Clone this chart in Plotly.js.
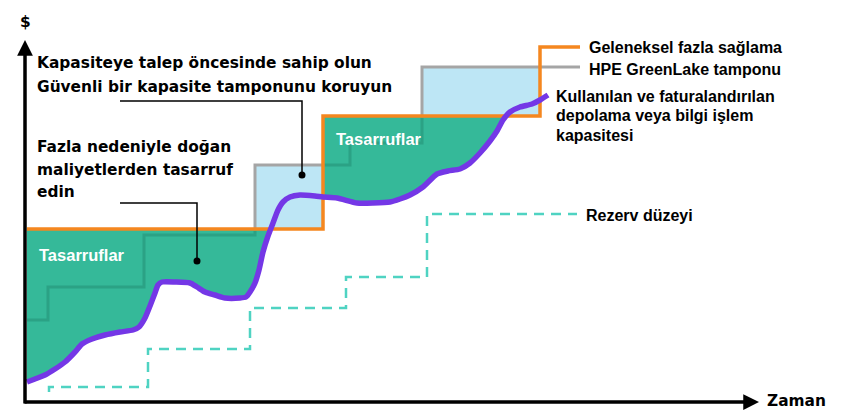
<!DOCTYPE html>
<html><head><meta charset="utf-8">
<script src="https://cdn.plot.ly/plotly-3.0.1.min.js"></script>
<style>html,body{margin:0;padding:0;background:#fff}#chart{width:845px;height:419px}</style>
</head><body><div id="chart"></div>
<script>
// ---- Data (time units along x, $ units along y) ----
// Traditional over-provisioning (step, hv)
const orangeX = [2, 298, 515, 555];
const orangeY = [174, 287, 356, 356];
// HPE GreenLake buffer (step, hv)
const grayX = [2, 23, 119, 230, 325, 397, 555];
const grayY = [83, 116, 168, 238, 260, 336, 336];
// Reserve level (step, hv)
const reserveX = [24, 24, 123, 225, 321, 402, 552];
const reserveY = [11, 16, 54, 95, 126, 189, 189];
// Used & billed capacity
const usedX = [2,10,20,30,40,50,57,67,80,95,108,114,120,125,130,133,137,150,165,172,180,190,200,215,221,225,230,234,238,243,248,253,258,265,275,290,298,312,332,348,365,375,385,398,412,423,435,445,455,465,472,478,485,495,507,515,523];
const usedY = [21,24,28,34,41,51,59,64,68,71,73,76,85,97,110,118,121,121,120,116,111,108,105,105,106,111,120,133,151,167,180,193,201,206,208,207,206,205,200,200,201,204,208,216,229,232,234,240,250,262,272,283,291,296,299,303,308];

const legendLabels = ["Geleneksel fazla sağlama", "HPE GreenLake tamponu", "Kullanılan ve faturalandırılan", "depolama veya bilgi işlem", "kapasitesi", "Rezerv düzeyi"];
const calloutLines1 = ["Kapasiteye talep öncesinde sahip olun", "Güvenli bir kapasite tamponunu koruyun"];
const calloutLines2 = ["Fazla nedeniyle doğan", "maliyetlerden tasarruf", "edin"];
const savingsLabel = "Tasarruflar";
const yAxisLabel = "$";
const xAxisLabel = "Zaman";

// ---- Colours ----
const C_ORANGE = '#f5871f', C_GRAY = '#a5a5a5', C_PURPLE = '#7437e6', C_TEAL = '#35b999',
      C_BLUE = '#bde6f5', C_HIDDEN = '#2ba285', C_RESERVE = '#4fd3c2';

// ---- helpers ----
function stepAt(xs, ys, x){ let v = ys[0]; for (let i=0;i<xs.length;i++){ if (x >= xs[i]) v = ys[i]; } return v; }
function lin(xs, ys, x){
  if (x <= xs[0]) return ys[0];
  for (let i=0;i<xs.length-1;i++){ if (x <= xs[i+1]) { const t=(x-xs[i])/(xs[i+1]-xs[i]); return ys[i]+t*(ys[i+1]-ys[i]); } }
  return ys[ys.length-1];
}
function fillRuns(upper, lower, x0, x1, dx){
  const runs = []; let cur = null;
  for (let x=x0; x<=x1+1e-9; x+=dx){
    const u = upper(x), l = lower(x);
    if (u > l){ if(!cur){cur={top:[],bot:[]}; runs.push(cur);} cur.top.push([x,u]); cur.bot.push([x,l]); }
    else cur = null;
  }
  return runs.map(r => {
    const pts = r.top.concat(r.bot.slice().reverse());
    return {x: pts.map(p=>p[0]), y: pts.map(p=>p[1])};
  });
}
function hvCorners(xs, ys){
  const pts=[[xs[0],ys[0]]];
  for (let i=1;i<xs.length;i++){ pts.push([xs[i],ys[i-1]]); pts.push([xs[i],ys[i]]); }
  return pts;
}

const orangeFn = x => stepAt(orangeX, orangeY, x);
const grayFn = x => stepAt(grayX, grayY, x);
const usedFn = x => lin(usedX, usedY, x);
// the last orange/gray step only leads to the legend label
const areaEnd = orangeX[orangeX.length-2];

const traces = [];
// light-blue buffer area (gray above orange)
fillRuns(grayFn, orangeFn, grayX[0], areaEnd - 0.25, 0.25).forEach(p => traces.push({
  x:p.x, y:p.y, type:'scatter', mode:'lines', fill:'toself', fillcolor:C_BLUE, line:{width:0, color:C_BLUE}, hoverinfo:'skip'}));
// gray buffer line
traces.push({x:grayX, y:grayY, type:'scatter', mode:'lines', line:{shape:'hv', color:C_GRAY, width:3}, hoverinfo:'skip'});
// teal savings area (orange above used)
fillRuns(orangeFn, usedFn, usedX[0], areaEnd - 0.25, 0.25).forEach(p => traces.push({
  x:p.x, y:p.y, type:'scatter', mode:'lines', fill:'toself', fillcolor:C_TEAL, line:{width:0, color:C_TEAL}, hoverinfo:'skip'}));
// gray line portions lying inside the savings area (shown darker teal)
(function(){
  const c = hvCorners(grayX, grayY); const hx=[], hy=[]; let prevIn=false;
  for (let i=0;i<c.length-1;i++){
    const [xa,ya]=c[i], [xb,yb]=c[i+1]; const len=Math.hypot(xb-xa,yb-ya); const n=Math.max(1,Math.ceil(len/0.5));
    for (let k=0;k<=n;k++){
      const x=xa+(xb-xa)*k/n, y=ya+(yb-ya)*k/n;
      const inside = x < areaEnd && y < orangeFn(x)-1.5 && y > usedFn(x)+2.5;
      if (inside){ hx.push(x); hy.push(y); prevIn=true; }
      else if (prevIn){ hx.push(null); hy.push(null); prevIn=false; }
    }
  }
  traces.push({x:hx, y:hy, type:'scatter', mode:'lines', connectgaps:false, line:{color:C_HIDDEN, width:3}, hoverinfo:'skip'});
})();
// orange over-provisioning line
traces.push({x:orangeX, y:orangeY, type:'scatter', mode:'lines', line:{shape:'hv', color:C_ORANGE, width:3.5}, hoverinfo:'skip'});
// reserve level
traces.push({x:reserveX, y:reserveY, type:'scatter', mode:'lines', line:{shape:'hv', color:C_RESERVE, width:2.5, dash:'10px,7px'}, hoverinfo:'skip'});
// used capacity
traces.push({x:usedX, y:usedY, type:'scatter', mode:'lines', line:{shape:'spline', smoothing:0.6, color:C_PURPLE, width:5.5}, hoverinfo:'skip'});

// pixel -> data
const PX = px => px - 25, PY = py => 403 - py;
const mainFont = {family:'DejaVu Sans, Liberation Sans, sans-serif', size:15.4, color:'#000', weight:'bold'};
const legFont = {family:'Liberation Sans, Arial, sans-serif', size:16, color:'#000', weight:'bold'};
const savFont = {family:'Liberation Sans, Arial, sans-serif', size:16.5, color:'#fff', weight:'bold'};
function txt(t, px, py, font, xanchor){
  return {text:t, x:PX(px), y:PY(py), xref:'x', yref:'y', xanchor:xanchor||'left', yanchor:'middle', showarrow:false, font:font, borderpad:0, borderwidth:0};
}
const ann = [
  txt(yAxisLabel, 25, 22, mainFont, 'center'),
  txt(xAxisLabel, 767, 401, mainFont),
  txt(calloutLines1[0], 37, 63, mainFont),
  txt(calloutLines1[1], 37, 87, mainFont),
  txt(calloutLines2[0], 37, 147, mainFont),
  txt(calloutLines2[1], 37, 170, mainFont),
  txt(calloutLines2[2], 37, 192, mainFont),
  txt(savingsLabel, 39, 255, savFont),
  txt(savingsLabel, 336, 139, savFont),
  txt(legendLabels[0], 589, 47, legFont),
  txt(legendLabels[1], 589, 69, legFont),
  txt(legendLabels[2], 556, 96, legFont),
  txt(legendLabels[3], 556, 115, legFont),
  txt(legendLabels[4], 556, 135, legFont),
  txt(legendLabels[5], 586, 215, legFont),
  // axes arrows
  {x:PX(25), y:PY(40), ax:PX(25), ay:PY(405), xref:'x', yref:'y', axref:'x', ayref:'y', text:'', showarrow:true, arrowhead:2, arrowsize:0.9, arrowwidth:3.5, arrowcolor:'#000', standoff:0},
  {x:PX(759), y:PY(402), ax:PX(23), ay:PY(402), xref:'x', yref:'y', axref:'x', ayref:'y', text:'', showarrow:true, arrowhead:2, arrowsize:0.9, arrowwidth:3.5, arrowcolor:'#000', standoff:0}
];
const shapes = [
  {type:'path', xref:'x', yref:'y', path:`M ${PX(120)},${PY(101)} L ${PX(302)},${PY(101)} L ${PX(302)},${PY(175)}`, line:{color:'#000', width:1.5}},
  {type:'path', xref:'x', yref:'y', path:`M ${PX(120)},${PY(203)} L ${PX(197)},${PY(203)} L ${PX(197)},${PY(261)}`, line:{color:'#000', width:1.5}},
  {type:'circle', xref:'x', yref:'y', x0:PX(302)-3.5, x1:PX(302)+3.5, y0:PY(175)-3.5, y1:PY(175)+3.5, fillcolor:'#000', line:{width:0}},
  {type:'circle', xref:'x', yref:'y', x0:PX(197)-3.5, x1:PX(197)+3.5, y0:PY(261)-3.5, y1:PY(261)+3.5, fillcolor:'#000', line:{width:0}}
];

const layout = {
  width:845, height:419, margin:{l:0,r:0,t:0,b:0},
  paper_bgcolor:'#fff', plot_bgcolor:'#fff', showlegend:false,
  xaxis:{range:[-25, 820], visible:false, fixedrange:true},
  yaxis:{range:[-16, 403], visible:false, fixedrange:true},
  annotations:ann, shapes:shapes
};
Plotly.newPlot('chart', traces, layout, {displayModeBar:false, staticPlot:true});
</script></body></html>
